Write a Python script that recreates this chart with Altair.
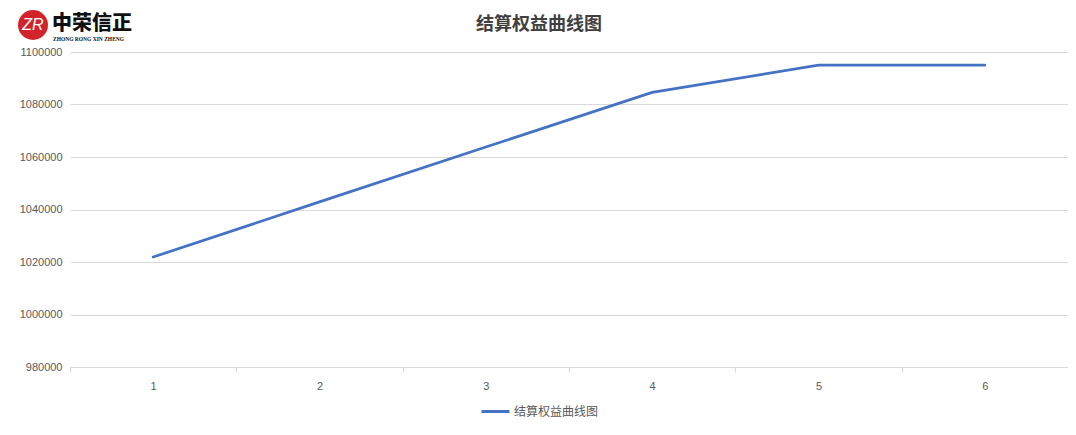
import altair as alt
import pandas as pd

periods = ["1", "2", "3", "4", "5", "6"]
equity = [1021900, 1042900, 1063800, 1084600, 1095000, 1095000]
series_name = "结算权益曲线图"
y_ticks = [980000, 1000000, 1020000, 1040000, 1060000, 1080000, 1100000]

df = pd.DataFrame({"period": periods, "equity": equity, "series": series_name})
one = pd.DataFrame({"k": [0]})

FONT = "Liberation Sans"
CJK = "Noto Sans CJK SC"

line = alt.Chart(df).mark_line(strokeWidth=2.75, strokeCap="round").encode(
    x=alt.X("period:O", bandPosition=0.5,
            scale=alt.Scale(type="band", paddingInner=0, paddingOuter=0),
            axis=alt.Axis(title=None, labelAngle=0, labelFont=FONT, labelFontSize=11,
                          labelColor="#595959", labelPadding=8, domainColor="#d9d9d9",
                          tickColor="#d9d9d9", tickSize=5, tickBand="extent", grid=False)),
    y=alt.Y("equity:Q",
            scale=alt.Scale(domain=[980000, 1100000], nice=False, zero=False),
            axis=alt.Axis(title=None, values=y_ticks, format="d", labelFont=FONT,
                          labelFontSize=11, labelColor="#595959", labelPadding=8,
                          domain=False, ticks=False, gridColor="#d9d9d9", gridWidth=1)),
    color=alt.Color("series:N", scale=alt.Scale(range=["#4472C4"]),
                    legend=alt.Legend(title=None, orient="none", legendX=410, legendY=344,
                                      symbolType="stroke", symbolStrokeWidth=3,
                                      symbolSize=784, labelFont=CJK, labelFontSize=12,
                                      labelColor="#595959", labelOffset=3)),
)

title = alt.Chart(one).mark_text(text="结算权益曲线图", font=CJK, fontSize=18, fontWeight="bold",
                                 color="#404040", align="center", baseline="middle").encode(
    x=alt.value(469), y=alt.value(-27))

logo_circle = alt.Chart(one).mark_point(filled=True, shape="circle", size=900, color="#d1232a",
                                        opacity=1).encode(x=alt.value(-37), y=alt.value(-27))
logo_letters = alt.Chart(one).mark_text(text="ZR", font="Liberation Sans", fontSize=16,
                                        fontStyle="italic", color="white", align="center",
                                        baseline="middle").encode(x=alt.value(-37), y=alt.value(-27))
logo_cn = alt.Chart(one).mark_text(text="中荣信正", font=CJK, fontSize=20, fontWeight=900,
                                   color="#111111", align="left", baseline="middle").encode(
    x=alt.value(-18), y=alt.value(-28))
logo_en = alt.Chart(one).mark_text(text="ZHONG RONG XIN ZHENG", font="Liberation Serif",
                                   fontSize=5.5, fontWeight="bold", color="#111111",
                                   align="left", baseline="middle").encode(
    x=alt.value(-17), y=alt.value(-13))

chart = alt.layer(line, title, logo_circle, logo_letters, logo_cn, logo_en).properties(
    width=998, height=315,
    autosize=alt.AutoSizeParams(type="none"),
    padding={"left": 62, "top": 44, "right": 0, "bottom": 60},
    background="white",
).configure_view(stroke=None)

chart.save("out.html", embed_options={"renderer": "svg", "actions": False})
